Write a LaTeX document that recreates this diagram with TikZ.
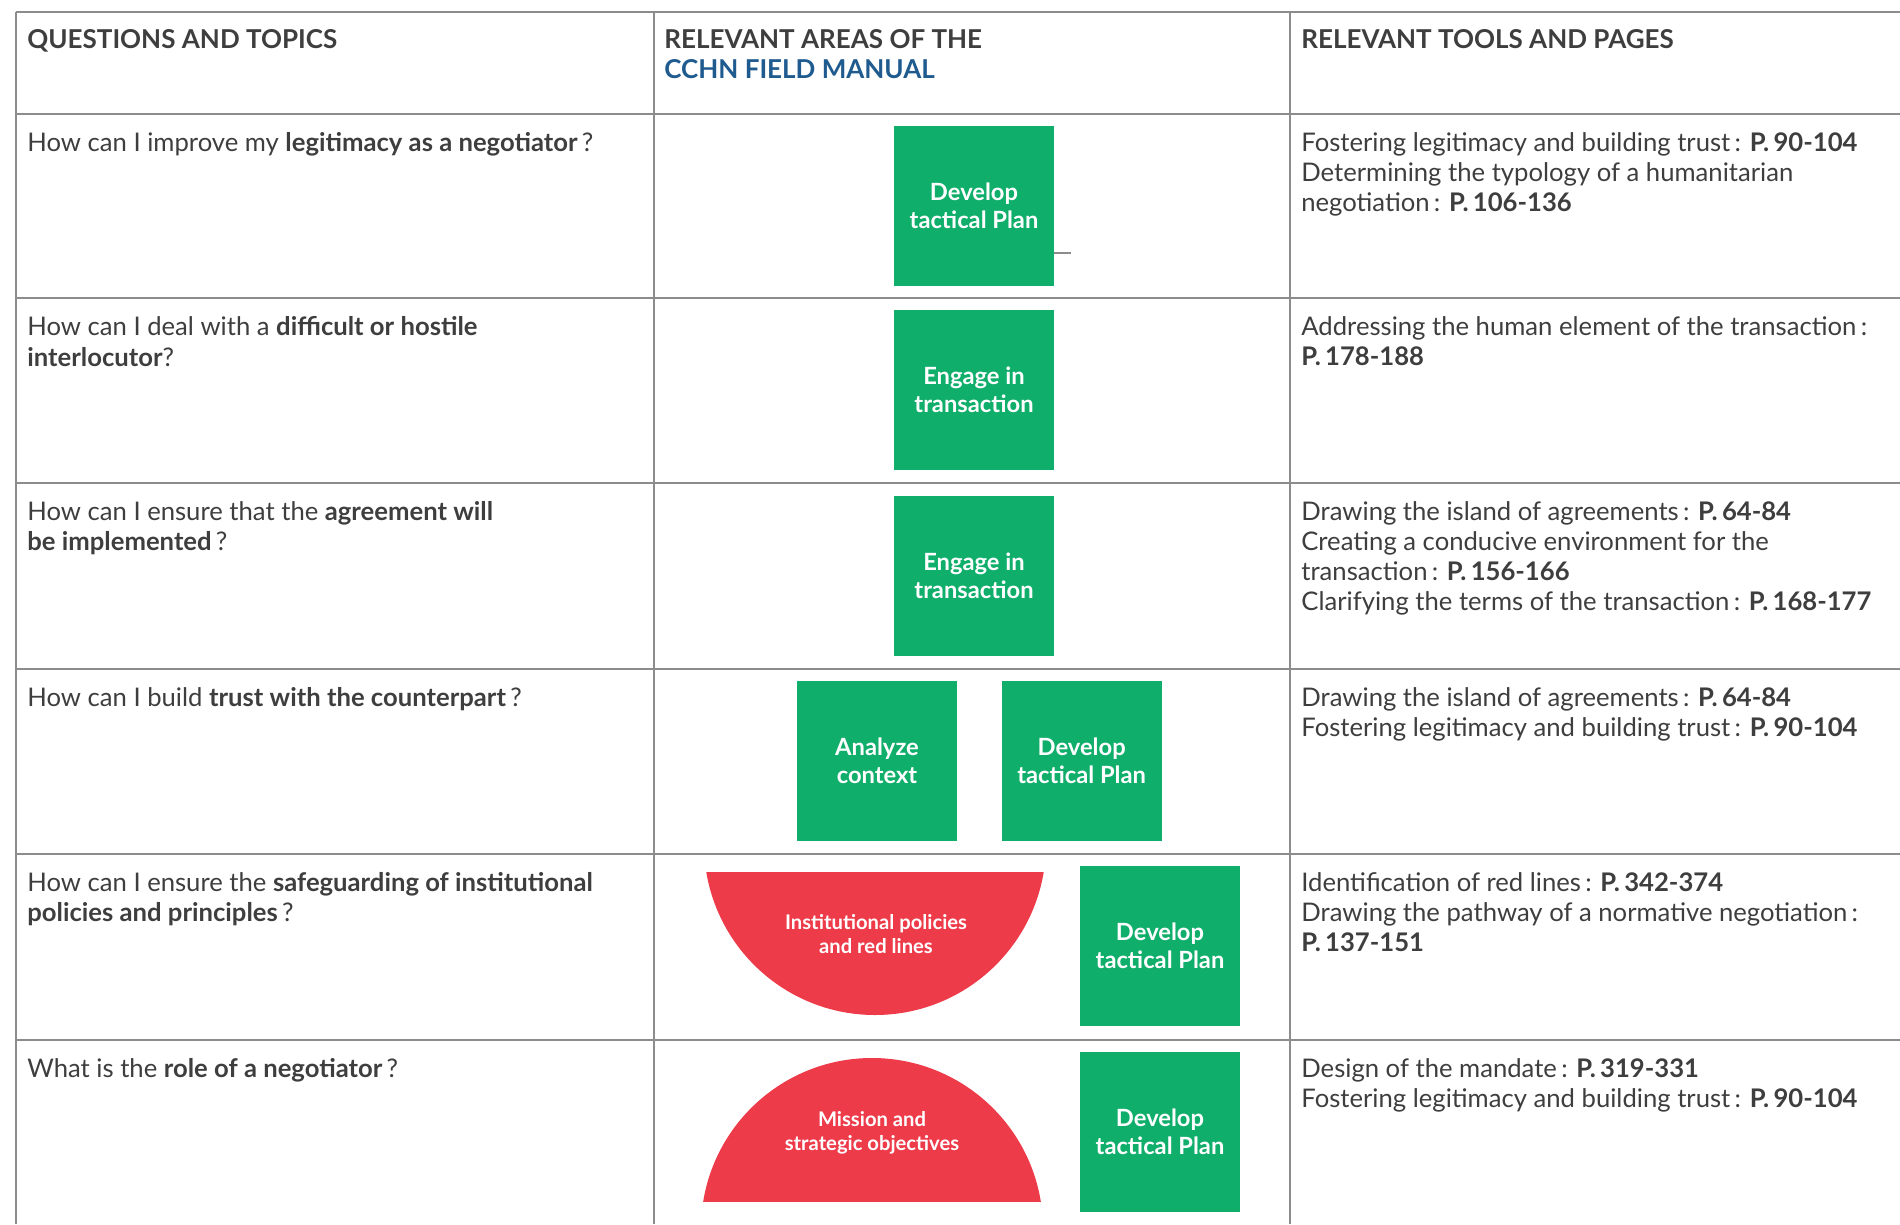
\documentclass[tikz,border=0pt]{standalone}
\usepackage{fontspec}
\setmainfont{Lato}
\usetikzlibrary{positioning}
\definecolor{linegray}{HTML}{8C8C8C}
\definecolor{textgray}{HTML}{3E3E3E}
\definecolor{boxgreen}{HTML}{10AE6B}
\definecolor{segred}{HTML}{EE3B4A}
\definecolor{headblue}{HTML}{1F5B8F}
\tikzset{
  rule/.style={draw=linegray, line width=1.1pt},
  celltext/.style={anchor=north west, inner sep=0pt, align=left, text=textgray,
    font=\fontsize{14.6}{17.1}\selectfont},
  headtext/.style={celltext, font=\fontsize{14.8}{17.1}\selectfont\bfseries},
  stepbox/.style={fill=boxgreen, minimum width=3.2cm, minimum height=3.2cm, inner sep=0pt,
    align=center, text=white, font=\fontsize{13.5}{16}\selectfont\bfseries},
  segtext/.style={align=center, inner sep=0pt, text=white,
    font=\fontsize{11.5}{13.7}\selectfont\bfseries},
}
\begin{document}
\begin{tikzpicture}[x=0.02cm, y=-0.02cm]
  \useasboundingbox (0,0) rectangle (1900,1224);
  % table rules
  \foreach \y in {12,114,298,483,669,854,1040}
    \draw[rule] (16,\y) -- (1900,\y);
  \foreach \x in {16,654,1290}
    \draw[rule] (\x,12) -- (\x,1224);

  % header
  \node[headtext] (head1) at (27,29.5) {QUESTIONS AND TOPICS};
  \node[headtext] (head2) at (664,29.5) {RELEVANT AREAS OF THE\\\textcolor{headblue}{CCHN FIELD MANUAL}};
  \node[headtext] (head3) at (1301,29.5) {RELEVANT TOOLS AND PAGES};

  % questions
  \node[celltext] (q1) at (27,132.5) {How can I improve my \textbf{legitimacy as a negotiator}\,?};
  \node[celltext] (q2) at (27,316.5) {How can I deal with a \textbf{difficult or hostile}\\\textbf{interlocutor}?};
  \node[celltext] (q3) at (27,501.5) {How can I ensure that the \textbf{agreement will}\\\textbf{be implemented}\,?};
  \node[celltext] (q4) at (27,687.5) {How can I build \textbf{trust with the counterpart}\,?};
  \node[celltext] (q5) at (27,872.5) {How can I ensure the \textbf{safeguarding of institutional}\\\textbf{policies and principles}\,?};
  \node[celltext] (q6) at (27,1058.5) {What is the \textbf{role of a negotiator}\,?};

  % areas of the manual
  \node[stepbox] (plan1) at (974,206) {Develop\\tactical Plan};
  \node[stepbox] (deal2) at (974,390) {Engage in\\transaction};
  \node[stepbox] (deal3) at (974,576) {Engage in\\transaction};
  \node[stepbox] (context4) at (877,761) {Analyze\\context};
  \node[stepbox, right=0.88cm of context4] (plan4) {Develop\\tactical Plan};
  \node[stepbox] (plan5) at (1160,946) {Develop\\tactical Plan};
  \node[stepbox] (plan6) at (1160,1132) {Develop\\tactical Plan};
  \coordinate (stub1) at (1071,253);
  \draw[rule] (plan1.east |- stub1) -- (stub1);

  \begin{scope}
    \clip (690,872) rectangle (1060,1030);
    \fill[segred] (875,844) circle[radius=171];
  \end{scope}
  \begin{scope}
    \clip (690,1045) rectangle (1060,1201);
    \fill[segred] (872,1229) circle[radius=171];
  \end{scope}
  \node[segtext] (policy5) at (876,934) {Institutional policies\\and red lines};
  \node[segtext] (mission6) at (872,1133) {Mission and\\strategic objectives};

  % tools and pages
  \node[celltext] (t1) at (1301,132.5) {Fostering legitimacy and building trust\,: \textbf{P.\,90-104}\\
    Determining the typology of a humanitarian\\negotiation\,: \textbf{P.\,106-136}};
  \node[celltext] (t2) at (1301,316.5) {Addressing the human element of the transaction\,:\\\textbf{P.\,178-188}};
  \node[celltext] (t3) at (1301,501.5) {Drawing the island of agreements\,: \textbf{P.\,64-84}\\
    Creating a conducive environment for the\\transaction\,: \textbf{P.\,156-166}\\
    Clarifying the terms of the transaction\,: \textbf{P.\,168-177}};
  \node[celltext] (t4) at (1301,687.5) {Drawing the island of agreements\,: \textbf{P.\,64-84}\\
    Fostering legitimacy and building trust\,: \textbf{P.\,90-104}};
  \node[celltext] (t5) at (1301,872.5) {Identification of red lines\,: \textbf{P.\,342-374}\\
    Drawing the pathway of a normative negotiation\,:\\\textbf{P.\,137-151}};
  \node[celltext] (t6) at (1301,1058.5) {Design of the mandate\,: \textbf{P.\,319-331}\\
    Fostering legitimacy and building trust\,: \textbf{P.\,90-104}};
\end{tikzpicture}
\end{document}
